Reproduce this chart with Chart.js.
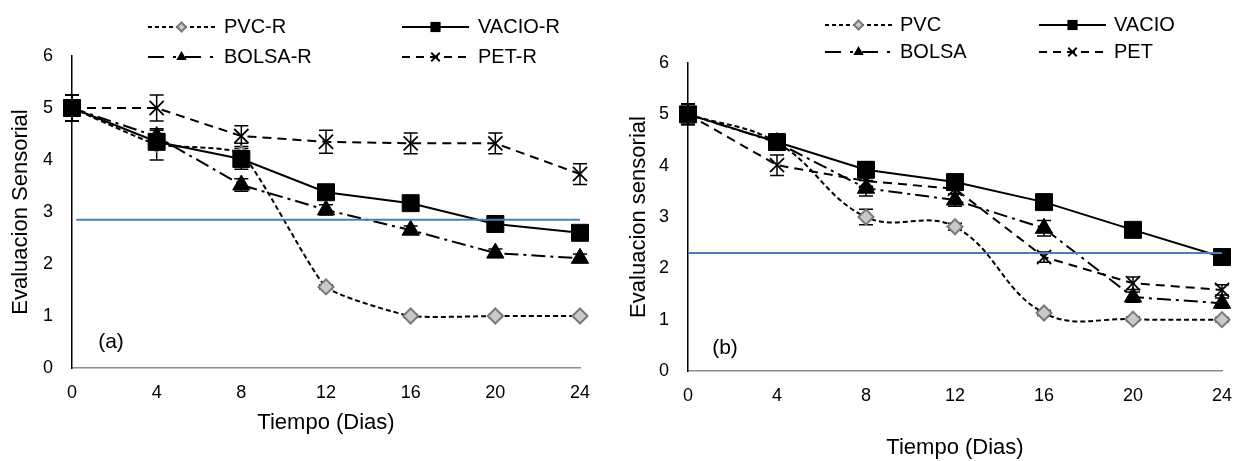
<!DOCTYPE html>
<html><head><meta charset="utf-8">
<script src="https://cdn.jsdelivr.net/npm/chart.js@4.4.1/dist/chart.umd.min.js"></script>
<style>
html,body{margin:0;padding:0;background:#fff;}
#wrap{position:relative;width:1250px;height:461px;overflow:hidden;}
.box{position:absolute;top:0;height:461px;}
#ba{left:0;width:620px;} #bb{left:620px;width:630px;}
</style></head><body>
<div id="wrap"><div class="box" id="ba"><canvas id="ca"></canvas></div><div class="box" id="bb"><canvas id="cb"></canvas></div></div>
<script>
// ---------- data ----------
const days   = [0, 4, 8, 12, 16, 20, 24];
const xTicks = [0, 4, 8, 12, 16, 20, 24];
const yTicks = [0, 1, 2, 3, 4, 5, 6];

// panel (a)
const labelsA   = ['PVC-R', 'VACIO-R', 'BOLSA-R', 'PET-R'];
const pvcR      = [5, 4.30, 4.12, 1.56, 1.00, 1.00, 1.00];
const vacioR    = [5, 4.35, 4.02, 3.38, 3.17, 2.77, 2.60];
const bolsaR    = [5, 4.45, 3.52, 3.04, 2.65, 2.21, 2.11];
const petR      = [5, 5.00, 4.46, 4.35, 4.32, 4.32, 3.73];
const pvcRErr   = [0.25, 0.30, 0.20, 0.04, 0.03, 0.03, 0.03];
const vacioRErr = [0.25, 0.15, 0.20, 0.10, 0.08, 0.08, 0.08];
const bolsaRErr = [0.25, 0.12, 0.12, 0.10, 0.08, 0.08, 0.08];
const petRErr   = [0.25, 0.25, 0.20, 0.22, 0.20, 0.20, 0.20];
const limitA      = 2.85;
const limitARange = [0.2, 24];

// panel (b)
const labelsB  = ['PVC', 'VACIO', 'BOLSA', 'PET'];
const pvcB     = [5, 4.45, 3.00, 2.81, 1.13, 1.01, 1.00];
const vacioB   = [5, 4.46, 3.92, 3.68, 3.29, 2.75, 2.22];
const bolsaB   = [5, 4.45, 3.56, 3.33, 2.78, 1.44, 1.32];
const petB     = [5, 4.01, 3.70, 3.55, 2.22, 1.71, 1.58];
const pvcBErr   = [0.20, 0.15, 0.15, 0.07, 0.05, 0.04, 0.04];
const vacioBErr = [0.20, 0.15, 0.15, 0.10, 0.08, 0.06, 0.06];
const bolsaBErr = [0.20, 0.12, 0.15, 0.12, 0.15, 0.10, 0.10];
const petBErr   = [0.20, 0.20, 0.10, 0.10, 0.10, 0.12, 0.10];
const limitB      = 2.30;
const limitBRange = [0, 24];

// ---------- styles ----------
const FONT = "'Liberation Sans', Arial, sans-serif";
const styles = [
  {dash:[5,3],        ldash:[4,3],        ps:'rectRot',  r:7.5, fill:'#c9c9c9', stroke:'#7a7a7a', pbw:2,   kind:'diamond'},
  {dash:[],           ldash:[],           ps:'rect',     r:12,  fill:'#000',    stroke:'#000',    pbw:1,   kind:'square'},
  {dash:[14,5,3,5],   ldash:[16,9,3,9],   ps:'triangle', r:10,  fill:'#000',    stroke:'#000',    pbw:1,   kind:'tri'},
  {dash:[9,6],        ldash:[8,6],        ps:'crossRot', r:10,  fill:'#000',    stroke:'#000',    pbw:1.8, kind:'x'}
];

function pts(vals){ return days.map((d,i)=>({x:d, y:vals[i]})); }

function drawMarker(ctx, st, x, y, s){
  ctx.save();
  ctx.setLineDash([]);
  ctx.fillStyle = st.fill; ctx.strokeStyle = st.stroke; ctx.lineWidth = st.pbw;
  ctx.beginPath();
  if (st.kind==='diamond'){ const r=st.r*s; ctx.moveTo(x,y-r);ctx.lineTo(x+r,y);ctx.lineTo(x,y+r);ctx.lineTo(x-r,y);ctx.closePath();ctx.fill();ctx.stroke(); }
  else if (st.kind==='square'){ const h=st.r*0.7071*s; ctx.rect(x-h,y-h,2*h,2*h);ctx.fill(); }
  else if (st.kind==='tri'){ const r=st.r*s; ctx.moveTo(x,y-r);ctx.lineTo(x+r*0.866,y+r*0.5);ctx.lineTo(x-r*0.866,y+r*0.5);ctx.closePath();ctx.fill(); }
  else { const h=st.r*0.7071*s; ctx.moveTo(x-h,y-h);ctx.lineTo(x+h,y+h);ctx.moveTo(x+h,y-h);ctx.lineTo(x-h,y+h);ctx.stroke(); }
  ctx.restore();
}

const legendPlugin = {
  id:'customLegend',
  afterDraw(chart, args, o){
    const ctx = chart.ctx;
    ctx.save();
    const series = chart.data.datasets.filter(d=>d.styleIdx!==undefined);
    series.forEach((ds,k)=>{
      const st = styles[ds.styleIdx];
      const x = o.cols[k%2], y = o.rows[Math.floor(k/2)];
      ctx.strokeStyle='#000'; ctx.lineWidth=2; ctx.setLineDash(st.ldash);
      ctx.beginPath(); ctx.moveTo(x,y); ctx.lineTo(x+o.len,y); ctx.stroke();
      drawMarker(ctx, st, x+o.len/2, y, 0.6);
      ctx.setLineDash([]);
      ctx.fillStyle='#000'; ctx.font = o.fontSize+'px '+FONT;
      ctx.textAlign='left'; ctx.textBaseline='middle';
      ctx.fillText(ds.label, x+o.gap, y);
    });
    if (o.panel){
      ctx.font = o.panel.size+'px '+FONT; ctx.textAlign='center'; ctx.textBaseline='middle';
      ctx.fillText(o.panel.text, o.panel.x, o.panel.y);
    }
    ctx.restore();
  }
};

const errPlugin = {
  id:'errBars',
  beforeDatasetsDraw(chart){
    const ctx = chart.ctx, ys = chart.scales.y;
    ctx.save();
    ctx.strokeStyle='#000'; ctx.lineWidth=1.5; ctx.setLineDash([]);
    chart.data.datasets.forEach((ds,i)=>{
      if (!ds.errs) return;
      const meta = chart.getDatasetMeta(i);
      meta.data.forEach((el,j)=>{
        const v = ds.data[j].y, e = ds.errs[j];
        const t = ys.getPixelForValue(v+e), b = ys.getPixelForValue(v-e), x = el.x;
        ctx.beginPath();
        ctx.moveTo(x,t); ctx.lineTo(x,b);
        ctx.moveTo(x-7,t); ctx.lineTo(x+7,t);
        ctx.moveTo(x-7,b); ctx.lineTo(x+7,b);
        ctx.stroke();
      });
    });
    ctx.restore();
  }
};

function seriesDS(label, vals, errs, idx, tension){
  const st = styles[idx];
  return {
    label, data: pts(vals), errs, styleIdx: idx,
    borderColor:'#000', borderWidth:2, borderDash: st.dash, tension: tension||0,
    pointStyle: st.ps, pointRadius: st.r, pointHoverRadius: st.r,
    pointBackgroundColor: st.fill, pointBorderColor: st.stroke, pointBorderWidth: st.pbw,
    clip:false, order: 4-idx
  };
}

function makeChart(id, cfg){
  return new Chart(document.getElementById(id), {
    type:'line',
    data:{ datasets:[
      seriesDS(cfg.labels[0], cfg.vals[0], cfg.errs[0], 0, cfg.pvcTension),
      seriesDS(cfg.labels[1], cfg.vals[1], cfg.errs[1], 1, 0),
      seriesDS(cfg.labels[2], cfg.vals[2], cfg.errs[2], 2, 0),
      seriesDS(cfg.labels[3], cfg.vals[3], cfg.errs[3], 3, 0),
      { label:'limit', data:[{x:cfg.limitRange[0],y:cfg.limit},{x:cfg.limitRange[1],y:cfg.limit}],
        borderColor:'#4a7ebb', borderWidth:2, pointRadius:0, order:-1, clip:false }
    ]},
    options:{
      responsive:true, maintainAspectRatio:false, animation:false,
      layout:{ padding:{ left:0, top:cfg.top, right:cfg.right, bottom:0 } },
      plugins:{ legend:{display:false}, tooltip:{enabled:false},
        customLegend: cfg.legend },
      scales:{
        x:{ type:'linear', min:0, max:24,
          afterBuildTicks: s => { s.ticks = xTicks.map(v=>({value:v})); },
          afterFit: s => { s.height = cfg.xh; },
          grid:{ display:false, drawTicks:false },
          border:{ display:true, color:'#8c8c8c', width:1.5 },
          ticks:{ color:'#000', font:{family:FONT, size:18}, padding:14, maxRotation:0 },
          title:{ display:true, text:'Tiempo (Dias)', color:'#000', font:{family:FONT, size:22}, padding:{top:0,bottom:cfg.xtPad} }
        },
        y:{ type:'linear', min:0, max:6,
          afterBuildTicks: s => { s.ticks = yTicks.map(v=>({value:v})); },
          afterFit: s => { s.width = cfg.yw; },
          grid:{ display:false, drawTicks:false },
          border:{ display:true, color:'#000', width:1.5 },
          ticks:{ color:'#000', font:{family:FONT, size:18}, padding:19 },
          title:{ display:true, text:cfg.ytitle, color:'#000', font:{family:FONT, size:22}, padding:{top:cfg.ytPad,bottom:0} }
        }
      }
    },
    plugins:[errPlugin, legendPlugin]
  });
}

makeChart('ca', {
  labels: labelsA, vals:[pvcR, vacioR, bolsaR, petR], errs:[pvcRErr, vacioRErr, bolsaRErr, petRErr],
  pvcTension:0.15, limit:limitA, limitRange:limitARange,
  top:56, right:40, xh:93, yw:72, xtPad:25, ytPad:8, ytitle:'Evaluacion Sensorial',
  legend:{ cols:[148,402], rows:[27,57], len:67, gap:76, fontSize:20, panel:{text:'(a)', x:111, y:342, size:21} }
});
makeChart('cb', {
  labels: labelsB, vals:[pvcB, vacioB, bolsaB, petB], errs:[pvcBErr, vacioBErr, bolsaBErr, petBErr],
  pvcTension:0.4, limit:limitB, limitRange:limitBRange,
  top:63, right:28, xh:90, yw:68, xtPad:0, ytPad:6, ytitle:'Evaluacion sensorial',
  legend:{ cols:[205,419], rows:[25,52], len:67, gap:75, fontSize:20, panel:{text:'(b)', x:105, y:348, size:21} }
});
</script>
</body></html>
